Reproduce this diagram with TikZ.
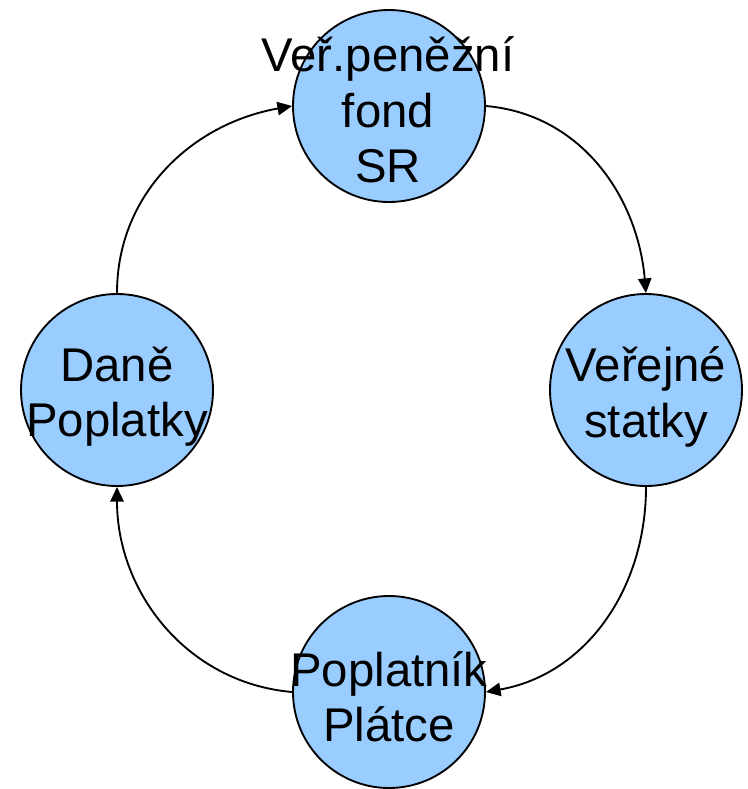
\documentclass[tikz,border=0pt]{standalone}
\usepackage{fontspec}
\setmainfont{Liberation Sans}
\usepackage{xcolor}
\usetikzlibrary{arrows.meta}

\definecolor{fondblue}{RGB}{153,204,255}

\tikzset{
  fondcircle/.style={circle,draw=black,line width=1.4pt,fill=fondblue,minimum size=144pt,inner sep=0pt},
  fondtext/.style={align=center,inner sep=0pt,font=\fontsize{35.5pt}{41.5pt}\selectfont},
  flow/.style={line width=1.4pt,-{Triangle[length=11pt,width=10pt]}}
}

\begin{document}
\begin{tikzpicture}[x=0.75pt,y=0.75pt,yscale=-1,xscale=1]
\useasboundingbox (0,0) rectangle (747,789);
%Shape: Circle
\node[fondcircle] (fond) at (389,106) {};
\node[fondcircle] (statky) at (646,390) {};
\node[fondcircle] (platce) at (389,692) {};
\node[fondcircle] (dane) at (117,390) {};
% Text Node
\node[fondtext] (fondtxt) at (388,110) {Veř.peněžní\\fond\\SR};
\node[fondtext] (statkytxt) at (646,397) {Veřejné\\statky};
\node[fondtext] (platcetxt) at (389,697) {Poplatník\\Plátce};
\node[fondtext] (danetxt) at (117,397) {Daně\\Poplatky};
%Curves (yscale=-1, so angles are mirrored)
\draw[flow] (dane.north) to[out=-90,in=170] (fond.west);
\draw[flow] (fond.east) to[out=5,in=-95] (statky.north);
\draw[flow] (statky.south) to[out=90,in=-10] (platce.east);
\draw[flow] (platce.west) to[out=185,in=90] (dane.south);
\end{tikzpicture}
\end{document}
